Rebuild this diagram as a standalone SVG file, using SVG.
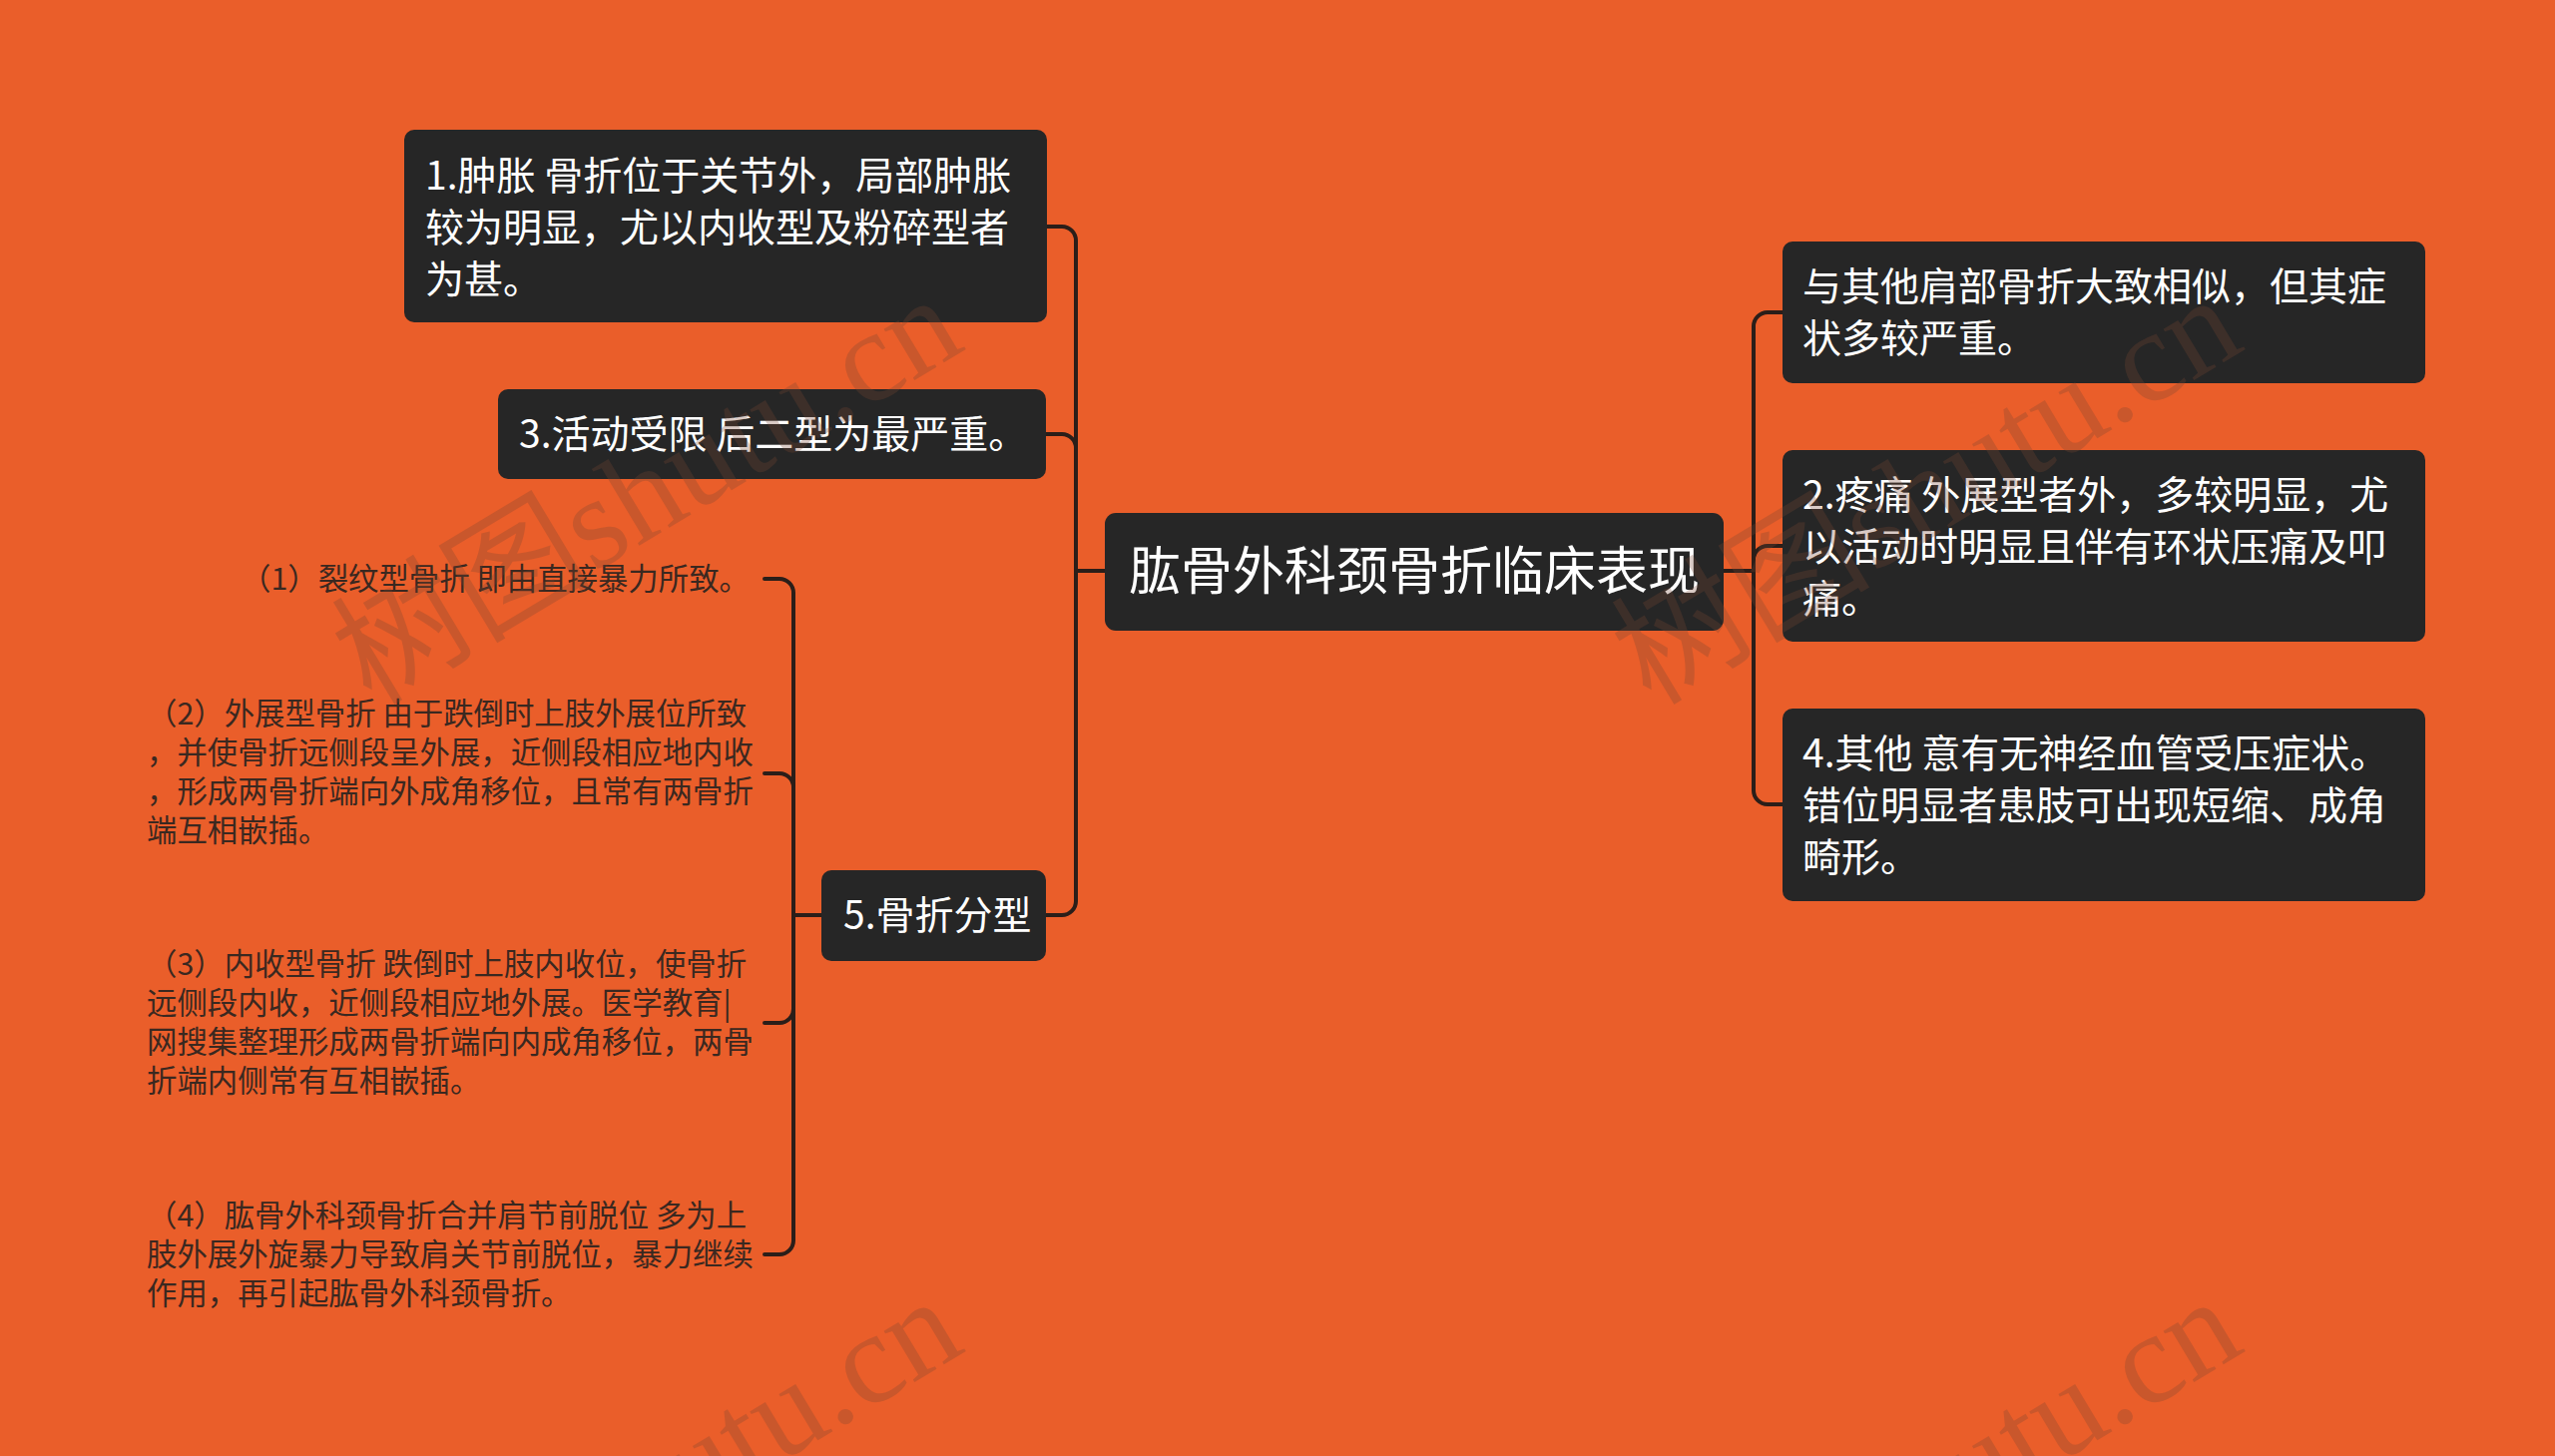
<svg xmlns="http://www.w3.org/2000/svg" width="2560" height="1459" viewBox="0 0 2560 1459">
<style>
.bg{fill:#EA5E2A}
.box{fill:#262626}
.t{font-family:"Noto Sans CJK SC","Noto Sans",sans-serif;fill:#ffffff}
.n{font-size:39px}
.root{font-size:52px}
.leaf{font-family:"Noto Sans CJK SC","Noto Sans",sans-serif;font-size:30.4px;fill:#3a2820}
.conn path{fill:none;stroke:#2b1e19;stroke-width:4;stroke-linecap:round}
.wm{font-family:"Liberation Serif","Noto Sans CJK SC",serif;font-size:130px;fill:#784632;opacity:0.28}
</style>
<rect class="bg" x="0" y="0" width="2560" height="1459"/>
<g id="connectors" class="conn">
<path d="M1107 572 H1078 V241 A14 14 0 0 0 1064 227 H1049"/>
<path d="M1107 572 H1078 V449 A14 14 0 0 0 1064 435 H1048"/>
<path d="M1107 572 H1078 V903 A14 14 0 0 1 1064 917 H1048"/>
<path d="M1727 572 H1757 V327 A14 14 0 0 1 1771 313 H1786"/>
<path d="M1727 572 H1757 V561 A14 14 0 0 1 1771 547 H1786"/>
<path d="M1727 572 H1757 V792 A14 14 0 0 0 1771 806 H1786"/>
<path d="M823 917 H795 V594 A14 14 0 0 0 781 580 H766"/>
<path d="M823 917 H795 V789 A14 14 0 0 0 781 775 H766"/>
<path d="M823 917 H795 V1011 A14 14 0 0 1 781 1025 H766"/>
<path d="M823 917 H795 V1243 A14 14 0 0 1 781 1257 H766"/>
</g>
<g id="root">
<rect class="box" x="1107" y="514" width="620" height="118" rx="11"/>
<text class="t root" x="1417" y="591" text-anchor="middle">肱骨外科颈骨折临床表现</text>
</g>
<g id="node1">
<rect class="box" x="405" y="130" width="644" height="193" rx="10"/>
<text class="t n" x="426" y="190">1.肿胀 骨折位于关节外，局部肿胀</text>
<text class="t n" x="426" y="242">较为明显，尤以内收型及粉碎型者</text>
<text class="t n" x="426" y="294">为甚。</text>
</g>
<g id="node3">
<rect class="box" x="499" y="390" width="549" height="90" rx="10"/>
<text class="t n" x="520" y="449">3.活动受限 后二型为最严重。</text>
</g>
<g id="node5">
<rect class="box" x="823" y="872" width="225" height="91" rx="10"/>
<text class="t n" x="845" y="931">5.骨折分型</text>
</g>
<g id="leaf1">
<text class="leaf" x="241" y="591">（1）裂纹型骨折 即由直接暴力所致。</text>
</g>
<g id="leaf2">
<text class="leaf" x="147" y="726">（2）外展型骨折 由于跌倒时上肢外展位所致</text>
<text class="leaf" x="147" y="765">，并使骨折远侧段呈外展，近侧段相应地内收</text>
<text class="leaf" x="147" y="804">，形成两骨折端向外成角移位，且常有两骨折</text>
<text class="leaf" x="147" y="843">端互相嵌插。</text>
</g>
<g id="leaf3">
<text class="leaf" x="147" y="977">（3）内收型骨折 跌倒时上肢内收位，使骨折</text>
<text class="leaf" x="147" y="1016">远侧段内收，近侧段相应地外展。医学教育|</text>
<text class="leaf" x="147" y="1055">网搜集整理形成两骨折端向内成角移位，两骨</text>
<text class="leaf" x="147" y="1094">折端内侧常有互相嵌插。</text>
</g>
<g id="leaf4">
<text class="leaf" x="147" y="1229">（4）肱骨外科颈骨折合并肩节前脱位 多为上</text>
<text class="leaf" x="147" y="1268">肢外展外旋暴力导致肩关节前脱位，暴力继续</text>
<text class="leaf" x="147" y="1307">作用，再引起肱骨外科颈骨折。</text>
</g>
<g id="nodeA">
<rect class="box" x="1786" y="242" width="644" height="142" rx="10"/>
<text class="t n" x="1806" y="301">与其他肩部骨折大致相似，但其症</text>
<text class="t n" x="1806" y="353">状多较严重。</text>
</g>
<g id="nodeB">
<rect class="box" x="1786" y="451" width="644" height="192" rx="10"/>
<text class="t n" x="1806" y="510">2.疼痛 外展型者外，多较明显，尤</text>
<text class="t n" x="1806" y="562">以活动时明显且伴有环状压痛及叩</text>
<text class="t n" x="1806" y="614">痛。</text>
</g>
<g id="nodeC">
<rect class="box" x="1786" y="710" width="644" height="193" rx="10"/>
<text class="t n" x="1806" y="769">4.其他 意有无神经血管受压症状。</text>
<text class="t n" x="1806" y="821">错位明显者患肢可出现短缩、成角</text>
<text class="t n" x="1806" y="873">畸形。</text>
</g>
<g id="watermarks">
<text class="wm" transform="translate(372 708) rotate(-31)">树图shutu.cn</text>
<text class="wm" transform="translate(1654 708) rotate(-31)">树图shutu.cn</text>
<text class="wm" transform="translate(372 1712) rotate(-31)">树图shutu.cn</text>
<text class="wm" transform="translate(1654 1712) rotate(-31)">树图shutu.cn</text>
</g>
</svg>
